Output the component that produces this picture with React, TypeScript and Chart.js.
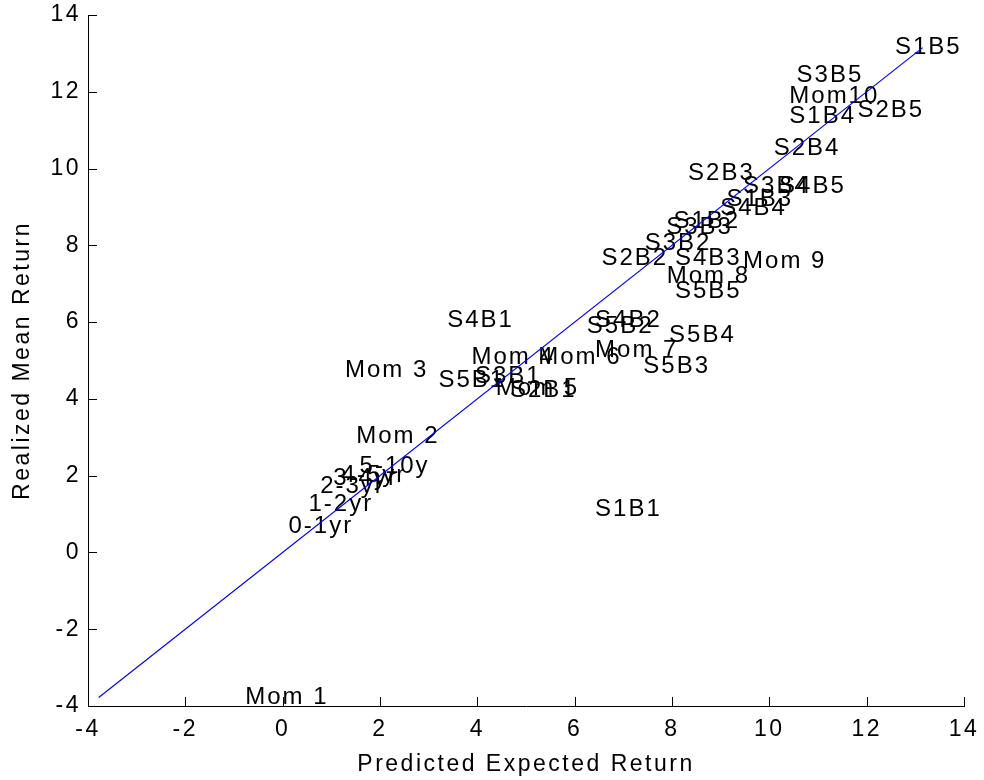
import React, { useEffect, useRef } from "react";
import { Chart, registerables } from "chart.js";

Chart.register(...registerables);

const pointLabels = [
  "S1B5", "S3B5", "Mom10", "S1B4", "S2B5", "S2B4", "S2B3", "S3B4", "S4B5", "S1B3",
  "S4B4", "S1B2", "S3B3", "S3B2", "S2B2", "S4B3", "Mom 9", "Mom 8", "S5B5", "S4B1",
  "S4B2", "S5B2", "S5B4", "Mom 4", "Mom 6", "Mom 7", "S5B3", "S5B1", "S3B1", "Mom 5",
  "S2B1", "Mom 3", "Mom 2", "5-10y", "4-5yr", "3-4yr", "2-3yr", "1-2yr", "0-1yr", "S1B1",
  "Mom 1",
];
const predicted = [
  12.58, 10.56, 10.41, 10.41, 11.81, 10.09, 8.33, 9.46, 10.2, 9.12,
  8.99, 8.03, 7.88, 7.44, 6.55, 8.06, 9.46, 7.89, 8.06, 3.38,
  6.42, 6.25, 7.94, 3.88, 5.25, 6.42, 7.41, 3.2, 3.95, 4.38,
  4.67, 1.28, 1.51, 1.58, 1.21, 1.04, 0.77, 0.53, 0.12, 6.42,
  -0.77,
];
const realized = [
  13.15, 12.44, 11.89, 11.35, 11.52, 10.53, 9.88, 9.53, 9.53, 9.2,
  8.96, 8.62, 8.47, 8.05, 7.66, 7.66, 7.57, 7.18, 6.79, 6.05,
  6.05, 5.88, 5.66, 5.08, 5.08, 5.27, 4.84, 4.49, 4.58, 4.28,
  4.21, 4.75, 3.02, 2.23, 2.02, 1.93, 1.73, 1.24, 0.67, 1.12,
  -3.78,
];
const fitX = [-3.78, 13.15];
const fitY = [-3.78, 13.15];
const axisMin = -4;
const axisMax = 14;
const axisStep = 2;
const xTitle = "Predicted Expected Return";
const yTitle = "Realized Mean Return";

const FONT = "'Liberation Sans', Arial, Helvetica, sans-serif";

const labelPlugin = {
  id: "textLabels",
  beforeDraw(chart: any) {
    chart.ctx.letterSpacing = "2.5px";
  },
  beforeDatasetsDraw(chart: any) {
    const ctx = chart.ctx;
    const xs = chart.scales.x;
    const ys = chart.scales.y;
    ctx.save();
    ctx.letterSpacing = "2px";
    ctx.font = `24px ${FONT}`;
    ctx.fillStyle = "#000";
    ctx.textAlign = "left";
    ctx.textBaseline = "middle";
    pointLabels.forEach((lab, i) => {
      const px = xs.getPixelForValue(predicted[i]);
      const py = ys.getPixelForValue(realized[i]);
      ctx.fillText(lab, px, py);
    });
    ctx.restore();
  },
  afterDraw(chart: any) {
    const ctx = chart.ctx;
    const xs = chart.scales.x;
    const ys = chart.scales.y;
    const area = chart.chartArea;
    ctx.save();
    ctx.strokeStyle = "#000";
    ctx.lineWidth = 1;
    ctx.beginPath();
    xs.ticks.forEach((t: any) => {
      const px = Math.round(xs.getPixelForValue(t.value)) + 0.5;
      ctx.moveTo(px, area.bottom);
      ctx.lineTo(px, area.bottom - 9);
    });
    ys.ticks.forEach((t: any) => {
      const py = Math.round(ys.getPixelForValue(t.value)) + 0.5;
      ctx.moveTo(area.left, py);
      ctx.lineTo(area.left + 9, py);
    });
    ctx.stroke();
    ctx.restore();
  },
};

export default function App() {
  const ref = useRef<HTMLCanvasElement | null>(null);
  useEffect(() => {
    if (!ref.current) return;
    const chart = new Chart(ref.current, {
      type: "scatter",
      data: {
        datasets: [
          {
            type: "scatter",
            label: "points",
            data: predicted.map((x, i) => ({ x, y: realized[i] })),
            pointRadius: 0,
            pointHoverRadius: 0,
            showLine: false,
          },
          {
            type: "line",
            label: "fit",
            data: fitX.map((x, i) => ({ x, y: fitY[i] })),
            borderColor: "#0000ff",
            borderWidth: 1.2,
            pointRadius: 0,
            fill: false,
            tension: 0,
          },
        ],
      },
      options: {
        animation: false,
        responsive: false,
        devicePixelRatio: 1,
        layout: { padding: { left: 0, right: 20, top: 15, bottom: 0 } },
        plugins: { legend: { display: false }, tooltip: { enabled: false } },
        scales: {
          x: {
            type: "linear",
            min: axisMin,
            max: axisMax,
            afterFit: (s: any) => {
              s.height = 74;
              s.paddingLeft = 0;
              s.paddingRight = 0;
            },
            ticks: {
              stepSize: axisStep,
              autoSkip: false,
              maxRotation: 0,
              color: "#000",
              padding: 10,
              font: { family: FONT, size: 23 },
            },
            grid: { display: false, drawTicks: false },
            border: { display: true, color: "#000", width: 1 },
            title: {
              display: true,
              text: xTitle,
              color: "#000",
              font: { family: FONT, size: 23 },
              padding: { top: 0, bottom: 2 },
            },
          },
          y: {
            type: "linear",
            min: axisMin,
            max: axisMax,
            afterFit: (s: any) => {
              s.width = 88;
              s.paddingTop = 0;
              s.paddingBottom = 0;
            },
            ticks: {
              stepSize: axisStep,
              autoSkip: false,
              color: "#000",
              padding: 7,
              font: { family: FONT, size: 23 },
            },
            grid: { display: false, drawTicks: false },
            border: { display: true, color: "#000", width: 1 },
            title: {
              display: true,
              text: yTitle,
              color: "#000",
              font: { family: FONT, size: 23 },
              padding: { top: 9, bottom: 0 },
            },
          },
        },
      } as any,
      plugins: [labelPlugin],
    });
    return () => chart.destroy();
  }, []);
  return (
    <div style={{ position: "fixed", left: 0, top: 0, width: 984, height: 780, background: "#fff" }}>
      <canvas ref={ref} width={984} height={780} style={{ width: 984, height: 780, display: "block" }} />
    </div>
  );
}
